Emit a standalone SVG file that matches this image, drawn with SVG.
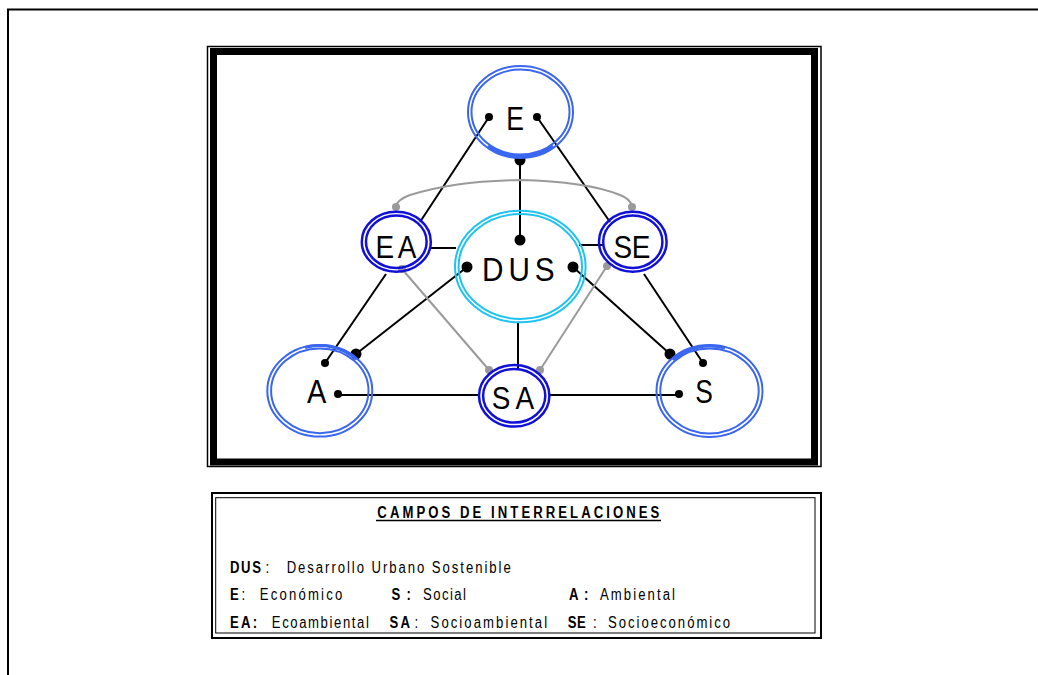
<svg xmlns="http://www.w3.org/2000/svg" width="1038" height="675" viewBox="0 0 1038 675">
<style>
.big{fill:none;stroke:#3a66f0;stroke-width:2}
.thk{fill:none;stroke:#3a66f0;stroke-width:3}
.mid{fill:none;stroke:#1010d8;stroke-width:2.5}
.dus{fill:none;stroke:#1ec3f0;stroke-width:2}
.lbl{font-family:"Liberation Sans",Arial,sans-serif;fill:#000;text-anchor:middle}
.ln{stroke:#000;stroke-width:2;fill:none}
.gl{stroke:#9a9a9a;stroke-width:2;fill:none}
.dot{fill:#000}
.gdot{fill:#9a9a9a}
.lg{font-family:"Liberation Sans",Arial,sans-serif;font-size:16px;fill:#000}
.b{font-weight:bold}
</style>
<rect x="0" y="0" width="1038" height="675" fill="#fff"/>
<rect x="8" y="9.5" width="1100" height="700" fill="none" stroke="#000" stroke-width="2"/>
<g id="frame">
<rect x="207.5" y="46.5" width="613.5" height="420" fill="none" stroke="#000" stroke-width="1.5"/>
<rect x="213.5" y="51.5" width="601" height="410.5" fill="none" stroke="#000" stroke-width="7"/>
</g>
<g id="connectors">
<line class="ln" x1="489" y1="117" x2="420" y2="222"/>
<line class="ln" x1="537" y1="117" x2="610" y2="222"/>
<line class="ln" x1="520" y1="160" x2="520" y2="240" stroke-width="2.5"/>
<line class="ln" x1="430" y1="248" x2="456" y2="248"/>
<line class="ln" x1="579" y1="245" x2="603" y2="245"/>
<line class="ln" x1="467" y1="267" x2="356" y2="354" stroke-width="1.7"/>
<line class="ln" x1="573" y1="267" x2="670" y2="354"/>
<line class="ln" x1="386" y1="274" x2="325" y2="363"/>
<line class="ln" x1="644" y1="274" x2="703" y2="363"/>
<line class="ln" x1="518" y1="322" x2="518" y2="370"/>
<line class="ln" x1="338" y1="395" x2="480" y2="395"/>
<line class="ln" x1="549" y1="395" x2="679" y2="395"/>
<path class="gl" d="M396 206 C397 201 402 198 410 195 C440 186 470 181 520 180 C570 181 600 187 620 195 C628 198 631 202 632 206"/>
<line class="gl" x1="402" y1="269" x2="489" y2="370"/>
<line class="gl" x1="607" y1="266" x2="540" y2="370"/>
<circle class="dot" cx="489" cy="117" r="4"/>
<circle class="dot" cx="537" cy="117" r="4"/>
<circle class="dot" cx="520" cy="160" r="5.5"/>
<circle class="dot" cx="520" cy="240" r="5.5"/>
<circle class="dot" cx="467" cy="267" r="5.5"/>
<circle class="dot" cx="573" cy="267" r="5.5"/>
<circle class="dot" cx="356" cy="354" r="5.5"/>
<circle class="dot" cx="670" cy="354" r="5.5"/>
<circle class="dot" cx="325" cy="363" r="4"/>
<circle class="dot" cx="703" cy="363" r="4"/>
<circle class="dot" cx="338" cy="394" r="4"/>
<circle class="dot" cx="679" cy="394" r="4"/>
<circle class="gdot" cx="396" cy="207" r="4"/>
<circle class="gdot" cx="632" cy="207" r="4"/>
<circle class="gdot" cx="402" cy="269" r="4"/>
<circle class="gdot" cx="607" cy="266" r="4"/>
<circle class="gdot" cx="489" cy="370" r="4"/>
<circle class="gdot" cx="540" cy="370" r="4"/>
</g>
<g id="node-E">
<ellipse class="big" cx="520.5" cy="112" rx="52.5" ry="46"/>
<ellipse class="big" cx="520.5" cy="112" rx="49" ry="42.5"/>
<path class="thk" d="M488 146 A50.8 44.3 0 0 0 553 146"/>
<text class="lbl" font-size="34" transform="translate(515,130) scale(0.78,1)">E</text>
</g>
<g id="node-EA">
<ellipse class="mid" cx="396.3" cy="241.7" rx="34.5" ry="30"/>
<ellipse class="mid" cx="396.3" cy="241.7" rx="30.3" ry="26.2"/>
<text class="lbl" font-size="31" transform="translate(396,258.3) scale(0.9,1)" textLength="45.5" lengthAdjust="spacing">EA</text>
</g>
<g id="node-SE">
<ellipse class="mid" cx="632.8" cy="241.7" rx="33.8" ry="30"/>
<ellipse class="mid" cx="632.8" cy="241.7" rx="29.6" ry="26.2"/>
<text class="lbl" font-size="31" transform="translate(632,258) scale(0.9,1)" textLength="41" lengthAdjust="spacing">SE</text>
</g>
<g id="node-DUS">
<ellipse class="dus" cx="520.3" cy="266.5" rx="65.3" ry="55.8"/>
<ellipse class="dus" cx="520.3" cy="266.5" rx="61.7" ry="52.4"/>
<text class="lbl" font-size="33" transform="translate(518.3,281) scale(0.9,1)" textLength="80.5" lengthAdjust="spacing">DUS</text>
</g>
<g id="node-A">
<ellipse class="big" cx="319.8" cy="390.8" rx="52.5" ry="45.8"/>
<ellipse class="big" cx="319.8" cy="390.8" rx="48.7" ry="42.4"/>
<path class="thk" d="M305 347.5 A50.6 44.1 0 0 1 356 359"/>
<text class="lbl" font-size="34" transform="translate(316.7,403.3) scale(0.85,1)">A</text>
</g>
<g id="node-SA">
<ellipse class="mid" cx="514.2" cy="395.8" rx="35.2" ry="30.8"/>
<ellipse class="mid" cx="514.2" cy="395.8" rx="31.1" ry="26.8"/>
<text class="lbl" font-size="31" transform="translate(513,409.3) scale(0.9,1)" textLength="47" lengthAdjust="spacing">SA</text>
</g>
<g id="node-S">
<ellipse class="big" cx="709.5" cy="391" rx="53" ry="46"/>
<ellipse class="big" cx="709.5" cy="391" rx="49.2" ry="42.5"/>
<path class="thk" d="M673 360 A51.1 44.2 0 0 1 725 348"/>
<text class="lbl" font-size="33" transform="translate(704,403.3) scale(0.8,1)">S</text>
</g>
<g id="legend">
<rect x="212" y="493" width="609" height="145" fill="none" stroke="#000" stroke-width="2"/>
<rect x="215.7" y="497.7" width="599.3" height="135.3" fill="none" stroke="#000" stroke-width="1"/>
<line x1="376" y1="520.5" x2="661" y2="520.5" stroke="#000" stroke-width="1.3"/>
<g transform="scale(0.82,1)">
<text class="lg b" x="460.2" y="518" textLength="343.9" lengthAdjust="spacing">CAMPOS DE INTERRELACIONES</text>
<text class="lg b" x="280.5" y="573" textLength="37.8" lengthAdjust="spacing">DUS</text>
<text class="lg" x="323.8" y="573">:</text>
<text class="lg" x="349.6" y="573" textLength="273.2" lengthAdjust="spacing">Desarrollo Urbano Sostenible</text>
<text class="lg b" x="280.5" y="600">E</text>
<text class="lg" x="294.5" y="600">:</text>
<text class="lg" x="316.7" y="600" textLength="100.6" lengthAdjust="spacing">Económico</text>
<text class="lg b" x="477.4" y="600">S</text>
<text class="lg b" x="495.7" y="600">:</text>
<text class="lg" x="515.9" y="600" textLength="52.4" lengthAdjust="spacing">Social</text>
<text class="lg b" x="693.9" y="600">A</text>
<text class="lg b" x="712.2" y="600">:</text>
<text class="lg" x="731.7" y="600" textLength="91.5" lengthAdjust="spacing">Ambiental</text>
<text class="lg b" x="280.5" y="628" textLength="33" lengthAdjust="spacing">EA:</text>
<text class="lg" x="331.5" y="628" textLength="118.3" lengthAdjust="spacing">Ecoambiental</text>
<text class="lg b" x="475" y="628" textLength="25" lengthAdjust="spacing">SA</text>
<text class="lg" x="505.5" y="628">:</text>
<text class="lg" x="525.1" y="628" textLength="142.1" lengthAdjust="spacing">Socioambiental</text>
<text class="lg b" x="692.3" y="628" textLength="22" lengthAdjust="spacing">SE</text>
<text class="lg" x="723.2" y="628">:</text>
<text class="lg" x="741.5" y="628" textLength="148.8" lengthAdjust="spacing">Socioeconómico</text>
</g>
</g>
</svg>
